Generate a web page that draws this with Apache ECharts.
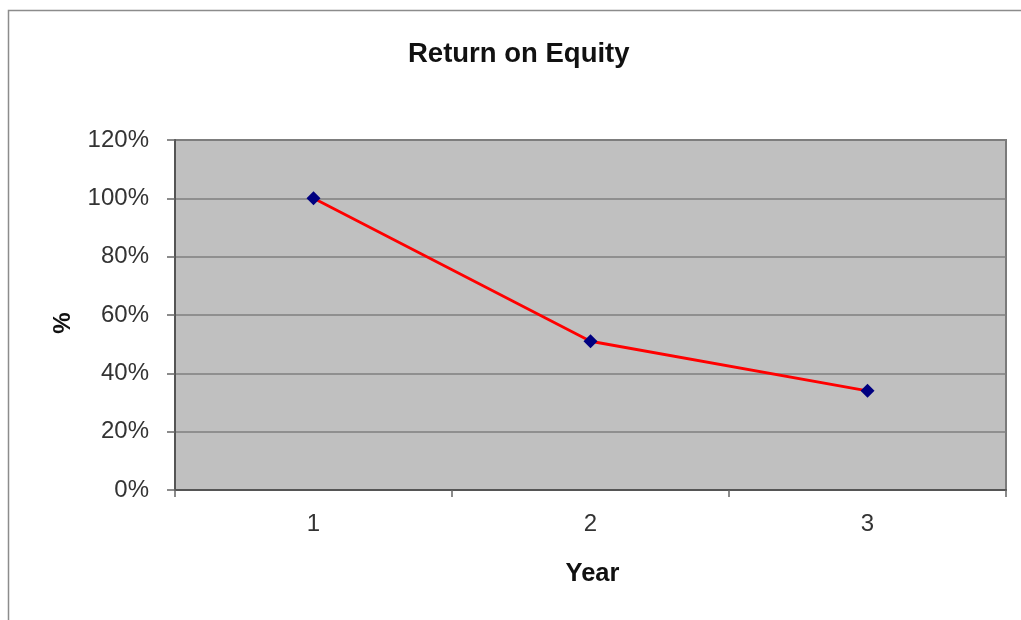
<!DOCTYPE html>
<html>
<head>
<meta charset="utf-8">
<title>Return on Equity</title>
<script src="https://cdn.jsdelivr.net/npm/echarts@6/dist/echarts.min.js"></script>
<style>
  html, body { margin: 0; padding: 0; background: #ffffff; }
  #chart { width: 1021px; height: 620px; }
</style>
</head>
<body>
<div id="chart"></div>
<script>
// Return on equity by year, in percent
var years = ['1', '2', '3'];
var roePercent = [100, 51, 34];
var yTicks = { min: 0, max: 120, interval: 20 };

var FONT = '"Liberation Sans", Arial, sans-serif';

var chart = echarts.init(document.getElementById('chart'), null, { renderer: 'canvas' });

chart.setOption({
  backgroundColor: '#ffffff',
  animation: false,
  title: {
    text: 'Return on Equity',
    left: 403,
    top: 35,
    textStyle: { fontFamily: FONT, fontSize: 27.5, fontWeight: 'bold', color: '#111111' }
  },
  graphic: [{
    type: 'rect',
    shape: { x: 8.5, y: 10.5, width: 1100, height: 700 },
    style: { fill: 'none', stroke: '#8c8c8c', lineWidth: 1.5 },
    silent: true
  }],
  grid: {
    left: 175, top: 140, right: 15, bottom: 130,
    show: true,
    backgroundColor: '#c0c0c0',
    borderColor: '#7a7a7a',
    borderWidth: 2
  },
  xAxis: {
    type: 'category',
    data: years,
    boundaryGap: true,
    name: 'Year',
    nameLocation: 'middle',
    nameGap: 71,
    nameTextStyle: { fontFamily: FONT, fontSize: 25.5, fontWeight: 'bold', color: '#111111', padding: [0, 0, 0, 4] },
    axisLine: { show: true, lineStyle: { color: '#555555', width: 2 } },
    axisTick: { show: true, alignWithLabel: false, length: 7, lineStyle: { color: '#666666', width: 1.5 } },
    axisLabel: { margin: 22, fontFamily: FONT, fontSize: 24, color: '#333333' },
    splitLine: { show: false }
  },
  yAxis: {
    type: 'value',
    min: yTicks.min,
    max: yTicks.max,
    interval: yTicks.interval,
    name: '%',
    nameLocation: 'middle',
    nameGap: 100,
    nameRotate: 90,
    nameTextStyle: { fontFamily: FONT, fontSize: 24, fontWeight: 'bold', color: '#111111', padding: [0, 16, 0, 0] },
    axisLine: { show: true, lineStyle: { color: '#555555', width: 2 } },
    axisTick: { show: true, length: 8, lineStyle: { color: '#666666', width: 1.5 } },
    axisLabel: {
      margin: 26,
      fontFamily: FONT,
      fontSize: 24,
      color: '#333333',
      formatter: function (v) { return v + '%'; }
    },
    splitLine: { show: true, lineStyle: { color: '#7f7f7f', width: 1.5 } }
  },
  series: [{
    type: 'line',
    data: roePercent,
    symbol: 'diamond',
    symbolSize: 14,
    lineStyle: { color: '#ff0000', width: 2.8 },
    itemStyle: { color: '#000080' },
    z: 5
  }]
});
</script>
</body>
</html>
